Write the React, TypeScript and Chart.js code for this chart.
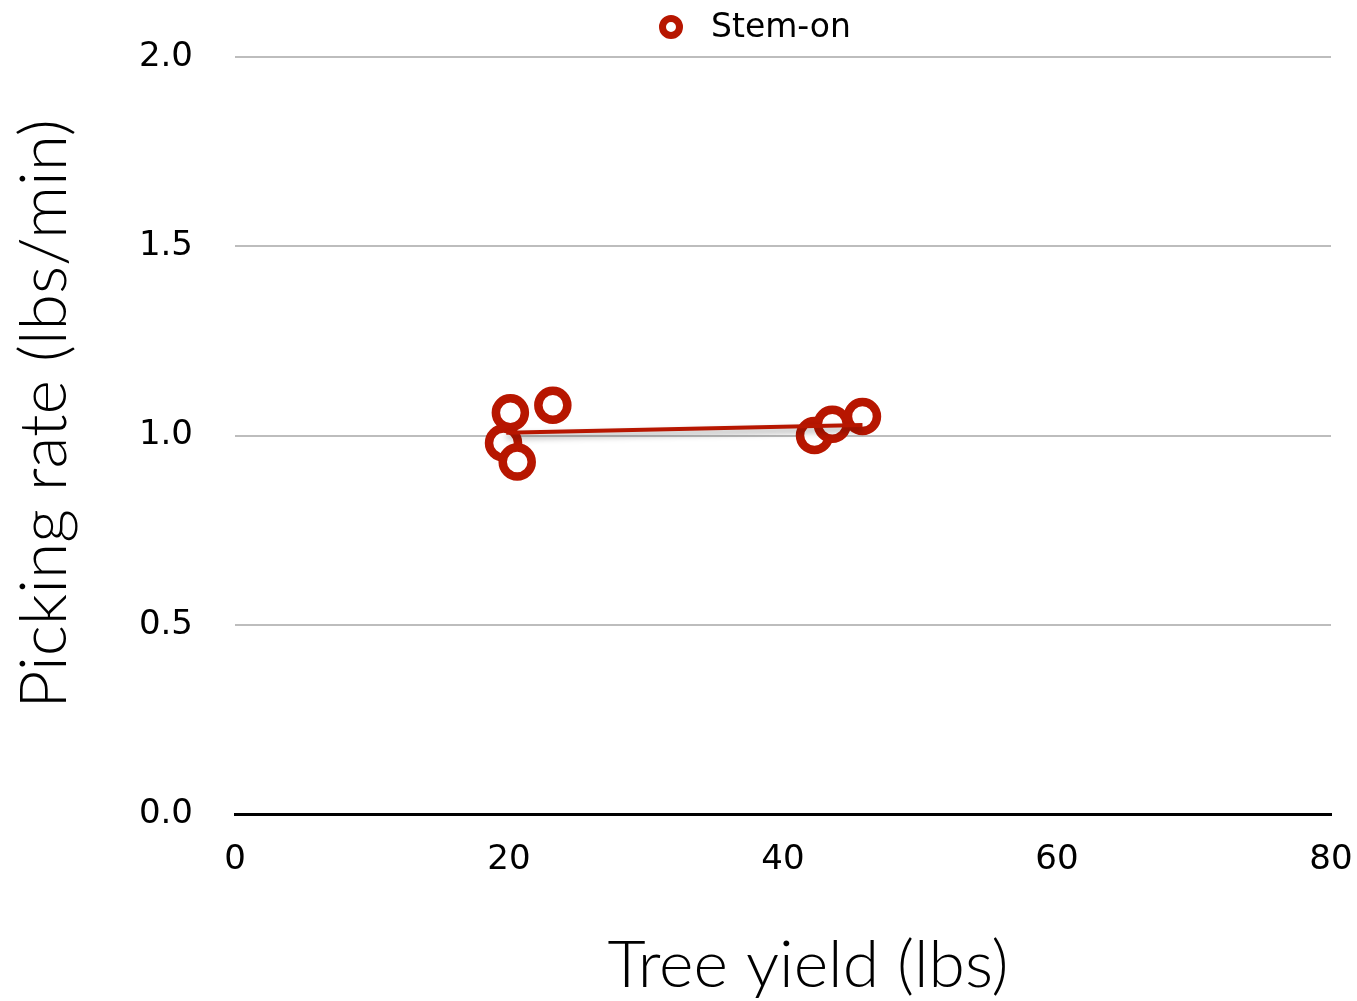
import React, { useEffect, useRef } from "react";
import { Chart, registerables } from "chart.js";

Chart.register(...registerables);

const seriesLabel = "Stem-on";
const treeYield = [20.1, 23.2, 19.6, 20.6, 42.3, 43.6, 45.8];
const pickingRate = [1.06, 1.08, 0.98, 0.93, 1.0, 1.03, 1.05];
const trendX = [19.8, 45.8];
const trendY = [1.007, 1.028];
const xTicks = [0, 20, 40, 60, 80];
const yTicks = [0, 0.5, 1.0, 1.5, 2.0];
const xTitle = "Tree yield (lbs)";
const yTitle = "Picking rate (lbs/min)";

const RED = "rgb(183,22,0)";
const TITLE_FONT = "Lato";
const TICK_FONT = "DejaVu Sans";

export default function App() {
  const ref = useRef<HTMLCanvasElement | null>(null);

  useEffect(() => {
    if (!ref.current) return;
    const shadowPlugin = {
      id: "trendShadow",
      beforeDatasetDraw(chart: any, args: any) {
        if (args.index === 1) {
          const c = chart.ctx;
          c.save();
          c.shadowColor = "rgba(0,0,0,0.35)";
          c.shadowBlur = 6;
          c.shadowOffsetY = 4;
        }
      },
      afterDatasetDraw(chart: any, args: any) {
        if (args.index === 1) chart.ctx.restore();
      },
    };
    const textPlugin = {
      id: "customText",
      afterDraw(chart: any) {
        const c = chart.ctx;
        c.save();
        // legend
        c.beginPath();
        c.arc(671, 27, 8.5, 0, Math.PI * 2);
        c.fillStyle = "#fff";
        c.fill();
        c.lineWidth = 7;
        c.strokeStyle = RED;
        c.stroke();
        c.fillStyle = "#000";
        c.font = `33px "${TICK_FONT}"`;
        c.textBaseline = "middle";
        c.textAlign = "left";
        c.fillText(chart.data.datasets[0].label, 711, 28);
        // axis titles
        c.font = `300 66px "${TITLE_FONT}"`;
        c.textAlign = "center";
        c.fillText(xTitle, 808, 966);
        c.translate(45, 414);
        c.rotate(-Math.PI / 2);
        c.fillText(yTitle, 0, 0);
        c.restore();
      },
    };
    const chart = new Chart(ref.current, {
      type: "scatter",
      data: {
        datasets: [
          {
            label: seriesLabel,
            data: treeYield.map((x, i) => ({ x, y: pickingRate[i] })),
            pointStyle: "circle",
            pointRadius: 14.5,
            pointBorderWidth: 8.5,
            pointBackgroundColor: "#fff",
            pointBorderColor: RED,
            showLine: false,
            order: 1,
          },
          {
            label: "trend",
            type: "line",
            data: trendX.map((x, i) => ({ x, y: trendY[i] })),
            borderColor: RED,
            borderWidth: 4,
            pointRadius: 0,
            fill: false,
            order: 0,
          } as any,
        ],
      },
      options: {
        animation: false,
        responsive: false,
        layout: { padding: { top: 57, right: 26, left: 0, bottom: 0 } },
        plugins: {
          legend: { display: false },
          tooltip: { enabled: false },
        },
        scales: {
          x: {
            type: "linear",
            min: 0,
            max: 80,
            afterBuildTicks(scale: any) {
              scale.ticks = xTicks.map((v) => ({ value: v }));
            },
            afterFit(scale: any) {
              scale.height = 187;
              scale.paddingLeft = 0;
              scale.paddingRight = 0;
            },
            grid: { display: false, drawTicks: false },
            border: { display: true, color: "#000", width: 3 },
            ticks: {
              color: "#000",
              padding: 26,
              font: { family: TICK_FONT, size: 34 },
              maxRotation: 0,
            },
          },
          y: {
            type: "linear",
            min: 0,
            max: 2,
            afterBuildTicks(scale: any) {
              scale.ticks = yTicks.map((v) => ({ value: v }));
            },
            afterFit(scale: any) {
              scale.width = 235;
              scale.paddingTop = 0;
              scale.paddingBottom = 0;
            },
            grid: { color: "#bdbdbd", lineWidth: 2, drawTicks: false },
            border: { display: false },
            ticks: {
              color: "#000",
              padding: 42,
              font: { family: TICK_FONT, size: 34 },
              callback: (v: any) => Number(v).toFixed(1),
            },
          },
        },
      },
      plugins: [shadowPlugin, textPlugin],
    } as any);
    return () => chart.destroy();
  }, []);

  return (
    <div style={{ position: "fixed", left: 0, top: 0, width: 1357, height: 1001, background: "#fff" }}>
      <canvas ref={ref} width={1357} height={1001} style={{ width: 1357, height: 1001 }} />
    </div>
  );
}
